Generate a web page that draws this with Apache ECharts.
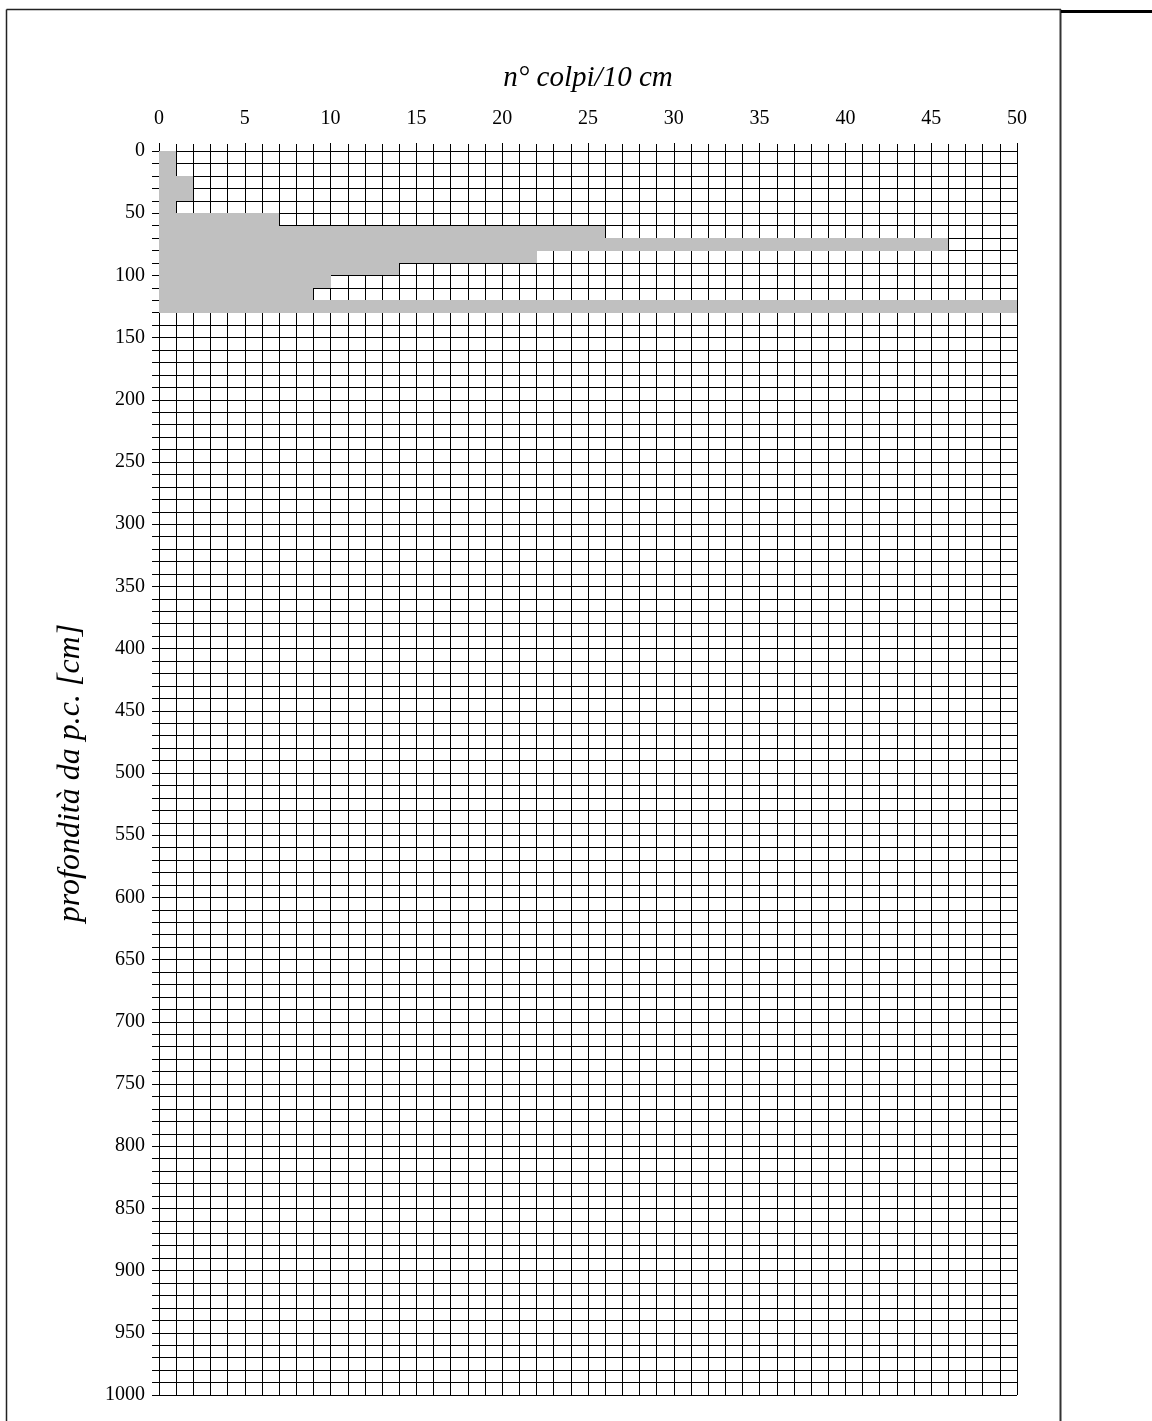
<!DOCTYPE html>
<html>
<head>
<meta charset="utf-8">
<script src="https://cdn.jsdelivr.net/npm/echarts@6/dist/echarts.min.js"></script>
<style>
html,body{margin:0;padding:0;background:#fff;}
#chart{width:1152px;height:1421px;}
</style>
</head>
<body>
<div id="chart"></div>
<script>
// Depth intervals (cm) and blow counts per 10 cm
const depthTop = [0, 10, 20, 30, 40, 50, 60, 70, 80, 90, 100, 110, 120];
const depthBottom = [10, 20, 30, 40, 50, 60, 70, 80, 90, 100, 110, 120, 130];
const blows = [1, 1, 2, 2, 1, 7, 26, 46, 22, 14, 10, 9, 50];

const xTicks = [0, 5, 10, 15, 20, 25, 30, 35, 40, 45, 50];
const yTicks = [0, 50, 100, 150, 200, 250, 300, 350, 400, 450, 500, 550, 600, 650, 700, 750, 800, 850, 900, 950, 1000];

const xTitle = 'n° colpi/10 cm';
const yTitle = 'profondità da p.c. [cm]';

const data = depthTop.map((t, i) => [t, depthBottom[i], blows[i]]);

const chart = echarts.init(document.getElementById('chart'), null, {renderer: 'canvas'});
const serif = 'Liberation Serif, Times New Roman, serif';

chart.setOption({
  animation: false,
  backgroundColor: '#fff',
  grid: {left: 159, top: 151, width: 858, height: 1244, containLabel: false},
  xAxis: {
    type: 'value', position: 'top',
    min: xTicks[0], max: xTicks[xTicks.length - 1], interval: 5,
    name: xTitle, nameLocation: 'middle', nameGap: 58,
    nameTextStyle: {fontFamily: serif, fontStyle: 'italic', fontSize: 29, color: '#000'},
    axisLine: {show: true, lineStyle: {color: '#000', width: 1}},
    axisTick: {show: true, length: 8, lineStyle: {color: '#000', width: 1}},
    minorTick: {show: true, splitNumber: 5, length: 7, lineStyle: {color: '#000', width: 1}},
    splitLine: {show: true, lineStyle: {color: '#000', width: 1}},
    minorSplitLine: {show: true, lineStyle: {color: '#000', width: 1}},
    axisLabel: {fontFamily: serif, fontSize: 20, color: '#000', margin: 22, formatter: v => String(v)}
  },
  yAxis: {
    type: 'value', inverse: true,
    min: yTicks[0], max: yTicks[yTicks.length - 1], interval: 50,
    name: yTitle, nameLocation: 'middle', nameGap: 72, nameRotate: 90,
    nameTextStyle: {fontFamily: serif, fontStyle: 'italic', fontSize: 32, color: '#000'},
    axisLine: {show: true, lineStyle: {color: '#000', width: 1}},
    axisTick: {show: true, length: 7, lineStyle: {color: '#000', width: 1}},
    minorTick: {show: true, splitNumber: 5, length: 7, lineStyle: {color: '#000', width: 1}},
    splitLine: {show: true, lineStyle: {color: '#000', width: 1}},
    minorSplitLine: {show: true, lineStyle: {color: '#000', width: 1}},
    axisLabel: {fontFamily: serif, fontSize: 20, color: '#000', margin: 14, formatter: v => String(v)}
  },
  graphic: [
    {type: 'line', shape: {x1: 6.5, y1: 9.5, x2: 1061, y2: 9.5}, style: {stroke: '#222', lineWidth: 1.5}},
    {type: 'line', shape: {x1: 6.5, y1: 9.5, x2: 6.5, y2: 1421}, style: {stroke: '#222', lineWidth: 1.5}},
    {type: 'line', shape: {x1: 1060.5, y1: 9.5, x2: 1060.5, y2: 1421}, style: {stroke: '#333', lineWidth: 2}},
    {type: 'line', shape: {x1: 1061, y1: 11.5, x2: 1152, y2: 11.5}, style: {stroke: '#000', lineWidth: 3}}
  ],
  series: [{
    type: 'custom',
    coordinateSystem: 'cartesian2d',
    data: data,
    encode: {x: 2, y: [0, 1]},
    renderItem: function (params, api) {
      const p0 = api.coord([0, api.value(0)]);
      const p1 = api.coord([api.value(2), api.value(1)]);
      const x0 = Math.round(p0[0]), y0 = Math.round(p0[1]);
      const x1 = Math.round(p1[0]), y1 = Math.round(p1[1]);
      return {
        type: 'rect',
        shape: {x: x0, y: y0, width: x1 - x0, height: y1 - y0},
        style: {fill: '#c0c0c0', stroke: null}
      };
    }
  }]
});
</script>
</body>
</html>
